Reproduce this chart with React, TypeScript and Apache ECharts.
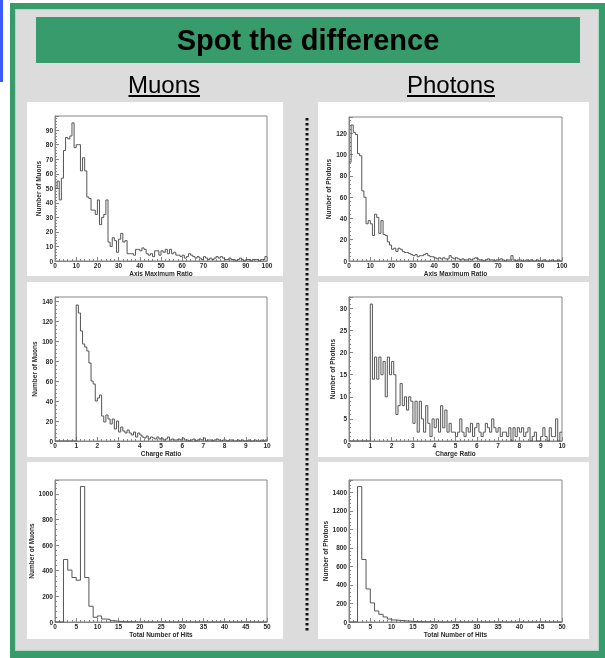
import React, { useEffect, useRef } from "react";
import * as echarts from "echarts";

// ---------- data (bin counts) ----------
const AXIS_RATIO_MUONS = [
  50, 55, 42, 57, 76, 85, 84, 86, 95, 78,
  80, 80, 62, 71, 62, 44, 43, 35, 35, 32,
  42, 25, 30, 32, 42, 13, 10, 16, 14, 6,
  15, 19, 13, 14, 5, 5, 5, 4, 8, 8,
  7, 9, 8, 5, 4, 5, 3, 7, 7, 4,
  7, 6, 8, 5, 8, 5, 6, 4, 4, 3,
  4, 2, 3, 5, 4, 3, 2, 3, 2, 1,
  3, 2, 1, 2, 1, 2, 3, 2, 3, 2,
  1, 1, 2, 1, 1, 0, 1, 2, 1, 0,
  1, 1, 0, 1, 1, 1, 0, 1, 1, 3,
];
const AXIS_RATIO_PHOTONS = [
  93, 128, 121, 119, 101, 99, 66, 60, 35, 38,
  35, 24, 44, 41, 26, 38, 25, 24, 18, 15,
  11, 12, 9, 12, 11, 9, 8, 8, 7, 6,
  5, 6, 4, 5, 5, 6, 7, 5, 4, 4,
  3, 2, 3, 2, 3, 2, 2, 5, 3, 2,
  3, 2, 1, 2, 1, 1, 2, 1, 2, 3,
  2, 1, 1, 0, 1, 2, 1, 1, 0, 1,
  1, 2, 1, 0, 1, 1, 5, 1, 0, 1,
  1, 0, 0, 1, 0, 1, 0, 0, 1, 0,
  0, 1, 0, 0, 0, 1, 0, 0, 1, 0,
];
const CHARGE_RATIO_MUONS = [
  0, 0, 0, 0, 0, 0, 0, 0, 0, 0,
  136, 128, 110, 97, 94, 90, 78, 60, 57, 40,
  43, 46, 25, 19, 26, 22, 17, 22, 12, 20,
  9, 14, 10, 8, 11, 8, 6, 9, 4, 8,
  6, 4, 3, 5, 2, 4, 3, 2, 4, 2,
  3, 1, 2, 4, 1, 2, 1, 1, 2, 1,
  3, 1, 1, 0, 1, 2, 0, 1, 2, 1,
  3, 0, 1, 1, 0, 1, 2, 1, 0, 1,
  1, 0, 1, 1, 0, 0, 1, 0, 1, 0,
  0, 1, 0, 0, 1, 0, 0, 1, 0, 1,
];
const CHARGE_RATIO_PHOTONS = [
  0, 0, 0, 0, 0, 0, 0, 0, 0, 0,
  31, 14, 19, 14, 19, 15, 18, 10, 19, 15,
  18, 15, 6, 8, 13, 8, 10, 7, 10, 9,
  4, 9, 2, 9, 5, 2, 8, 4, 1, 5,
  3, 5, 2, 8, 3, 7, 2, 4, 2, 2,
  1, 2, 5, 2, 1, 3, 2, 4, 1, 3,
  4, 2, 1, 2, 4, 3, 2, 5, 3, 2,
  3, 1, 2, 2, 1, 3, 0, 3, 1, 3,
  2, 3, 1, 2, 3, 0, 1, 2, 0, 0,
  1, 3, 1, 0, 3, 1, 1, 5, 0, 2,
];
const HITS_MUONS = [
  0, 0, 488, 405, 347, 326, 1057, 347, 123, 37,
  47, 23, 21, 10, 6, 3, 2, 1, 1, 0,
  0, 0, 0, 0, 0, 0, 0, 0, 0, 0,
  0, 0, 0, 0, 0, 0, 0, 0, 0, 0,
  0, 0, 0, 0, 0, 0, 0, 0, 0, 0,
];
const HITS_PHOTONS = [
  0, 0, 1462, 675, 357, 206, 119, 83, 54, 32,
  22, 18, 14, 10, 7, 5, 3, 2, 2, 1,
  1, 0, 0, 0, 0, 0, 0, 0, 0, 0,
  0, 0, 0, 0, 0, 0, 0, 0, 0, 0,
  0, 0, 0, 0, 0, 0, 0, 0, 0, 0,
];

const X_TITLES = ["Axis Maximum Ratio", "Axis Maximum Ratio", "Charge Ratio", "Charge Ratio", "Total Number of Hits", "Total Number of Hits"];
const Y_TITLES = ["Number of Muons", "Number of Photons", "Number of Muons", "Number of Photons", "Number of Muons", "Number of Photons"];
const COLUMN_TITLES = ["Muons", "Photons"];
const MAIN_TITLE = "Spot the difference";

// histogram definitions: counts, bin width, x max, x label step, y max, y label step
const HISTS = [
  { counts: AXIS_RATIO_MUONS, binWidth: 1, xMax: 100, xStep: 10, yMax: 99.75, yStep: 10 },
  { counts: AXIS_RATIO_PHOTONS, binWidth: 1, xMax: 100, xStep: 10, yMax: 135.5, yStep: 20 },
  { counts: CHARGE_RATIO_MUONS, binWidth: 0.1, xMax: 10, xStep: 1, yMax: 144, yStep: 20 },
  { counts: CHARGE_RATIO_PHOTONS, binWidth: 0.1, xMax: 10, xStep: 1, yMax: 32.6, yStep: 5 },
  { counts: HITS_MUONS, binWidth: 1, xMax: 50, xStep: 5, yMax: 1108, yStep: 200 },
  { counts: HITS_PHOTONS, binWidth: 1, xMax: 50, xStep: 5, yMax: 1533, yStep: 200 },
];

// ---------- layout ----------
const GRIDS = [
  { left: 55, top: 116, width: 212, height: 145 },
  { left: 349, top: 117, width: 213, height: 144 },
  { left: 55, top: 297, width: 212, height: 144 },
  { left: 349, top: 297, width: 213, height: 144 },
  { left: 55, top: 480, width: 212, height: 142 },
  { left: 349, top: 480, width: 213, height: 142 },
];
const PANELS = [
  { x: 27, y: 102, w: 256, h: 174 },
  { x: 318, y: 102, w: 271, h: 174 },
  { x: 27, y: 282, w: 256, h: 175 },
  { x: 318, y: 282, w: 271, h: 175 },
  { x: 27, y: 462, w: 256, h: 177 },
  { x: 318, y: 462, w: 271, h: 177 },
];

const FONT = '"Liberation Sans", Arial, Helvetica, sans-serif';
const GREEN = "#379b6b";
const AXIS_COLOR = "#858585";
const LABEL_COLOR = "#2a2a2a";
const HIST_COLOR = "#555";

function toSteps(counts: number[], width: number) {
  const pts: number[][] = counts.map((c, i) => [+(i * width).toFixed(4), c]);
  pts.push([+(counts.length * width).toFixed(4), counts[counts.length - 1]]);
  return pts;
}

function stepFormatter(step: number) {
  return (v: number) => {
    const r = v / step;
    return Math.abs(r - Math.round(r)) < 1e-6 ? String(+v.toFixed(4)) : "";
  };
}

function axisCommon(max: number, step: number, name: string, gridIndex: number, isY: boolean) {
  return {
    type: "value",
    gridIndex,
    min: 0,
    max,
    interval: step,
    name,
    nameLocation: "middle",
    nameGap: isY ? 13 : 8,
    nameRotate: isY ? 90 : 0,
    nameTextStyle: { fontSize: 6.5, fontWeight: "bold", color: LABEL_COLOR, fontFamily: FONT },
    axisLine: { show: true, onZero: false, lineStyle: { color: AXIS_COLOR, width: 1 } },
    axisTick: { show: true, inside: true, length: 4, lineStyle: { color: AXIS_COLOR, width: 1 } },
    minorTick: { show: true, splitNumber: 5, length: 2, lineStyle: { color: AXIS_COLOR, width: 1 } },
    axisLabel: {
      fontSize: 6.5,
      fontWeight: "bold",
      color: LABEL_COLOR,
      fontFamily: FONT,
      margin: isY ? 2 : 1,
      formatter: stepFormatter(step),
    },
    splitLine: { show: false },
    minorSplitLine: { show: false },
  };
}

export default function App() {
  const ref = useRef<HTMLDivElement>(null);

  useEffect(() => {
    if (!ref.current) return;
    const chart = echarts.init(ref.current, undefined, { renderer: "svg" });

    const graphics: any[] = [
      { type: "rect", z: -10, shape: { x: 0, y: 0, width: 3, height: 82 }, style: { fill: "#3b5bfd" } },
      { type: "rect", z: -10, shape: { x: 10, y: 3, width: 595, height: 655 }, style: { fill: GREEN } },
      { type: "rect", z: -9, shape: { x: 15, y: 9, width: 584, height: 642 }, style: { fill: "#a9d9c0" } },
      { type: "rect", z: -8, shape: { x: 16, y: 10, width: 582, height: 640 }, style: { fill: "#dcdcdc" } },
      { type: "rect", z: -7, shape: { x: 36, y: 17, width: 544, height: 46 }, style: { fill: GREEN } },
      {
        type: "text",
        z: -6,
        style: {
          text: MAIN_TITLE,
          x: 308,
          y: 40,
          textAlign: "center",
          textVerticalAlign: "middle",
          font: `bold 29px ${FONT}`,
          fill: "#000",
        },
      },
      {
        type: "text",
        z: -6,
        style: { text: COLUMN_TITLES[0], x: 164, y: 84, textAlign: "center", textVerticalAlign: "middle", font: `24px ${FONT}`, fill: "#000" },
      },
      {
        type: "text",
        z: -6,
        style: { text: COLUMN_TITLES[1], x: 451, y: 84, textAlign: "center", textVerticalAlign: "middle", font: `24px ${FONT}`, fill: "#000" },
      },
      { type: "line", z: -6, shape: { x1: 128.5, y1: 96, x2: 200, y2: 96 }, style: { stroke: "#000", lineWidth: 2 } },
      { type: "line", z: -6, shape: { x1: 407, y1: 96, x2: 495, y2: 96 }, style: { stroke: "#000", lineWidth: 2 } },
      {
        type: "line",
        z: -6,
        shape: { x1: 307, y1: 118, x2: 307, y2: 633 },
        style: { stroke: "#111", lineWidth: 3, lineDash: [2.5, 2.5] },
      },
      ...PANELS.map((p) => ({
        type: "rect",
        z: -5,
        shape: { x: p.x, y: p.y, width: p.w, height: p.h },
        style: { fill: "#ffffff" },
      })),
    ];

    const option: any = {
      animation: false,
      backgroundColor: "transparent",
      graphic: { elements: graphics },
      grid: GRIDS.map((g) => ({
        ...g,
        show: true,
        borderColor: AXIS_COLOR,
        borderWidth: 1,
        backgroundColor: "transparent",
        containLabel: false,
      })),
      xAxis: HISTS.map((h, i) => axisCommon(h.xMax, h.xStep, X_TITLES[i], i, false)),
      yAxis: HISTS.map((h, i) => axisCommon(h.yMax, h.yStep, Y_TITLES[i], i, true)),
      series: HISTS.map((h, i) => ({
        type: "line",
        xAxisIndex: i,
        yAxisIndex: i,
        step: "end",
        symbol: "none",
        showSymbol: false,
        silent: true,
        clip: true,
        lineStyle: { color: HIST_COLOR, width: 1 },
        data: toSteps(h.counts, h.binWidth),
      })),
    };

    chart.setOption(option);
    return () => chart.dispose();
  }, []);

  return <div ref={ref} style={{ position: "fixed", left: 0, top: 0, width: 605, height: 658 }} />;
}
